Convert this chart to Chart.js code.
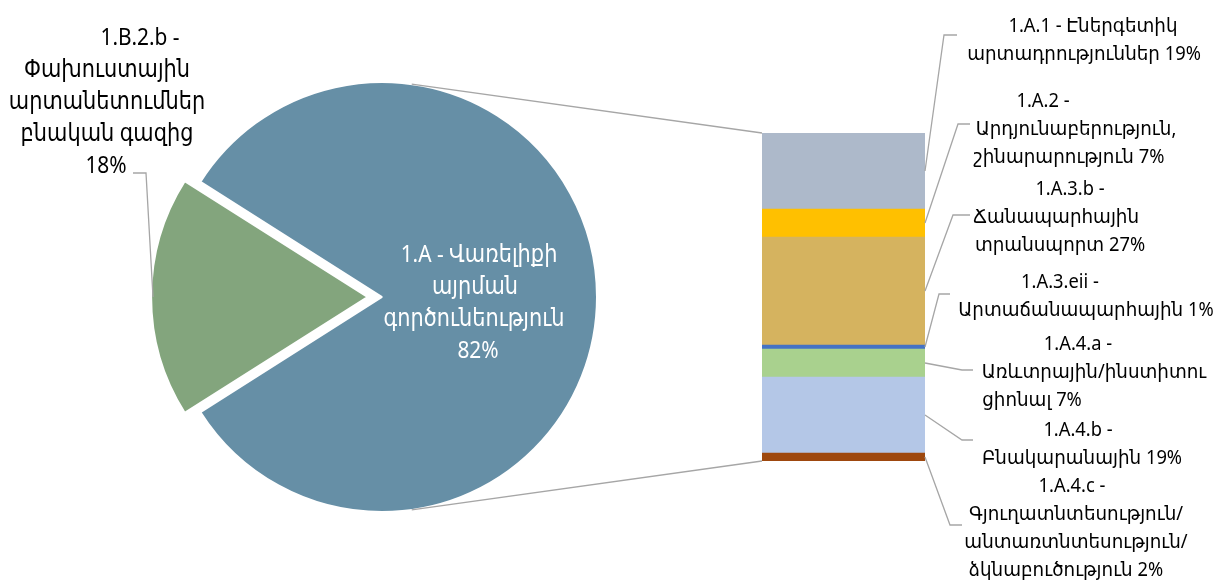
<!DOCTYPE html>
<html>
<head>
<meta charset="utf-8">
<title>1.A breakdown</title>
<script src="https://cdn.jsdelivr.net/npm/chart.js@4.4.1/dist/chart.umd.min.js"></script>
<style>
  html, body { margin: 0; padding: 0; background: #fff; }
  #wrap { position: relative; width: 1229px; height: 583px; }
  #wrap canvas { position: absolute; left: 0; top: 0; }
</style>
</head>
<body>
<div id="wrap">
  <canvas id="pieChart" width="1229" height="583"></canvas>
  <canvas id="barChart" width="1229" height="583"></canvas>
</div>
<script>
// Pie: fuel combustion vs fugitive emissions
const pieNames = ['1.A - Վառելիքի\nայրման\nգործունեություն', '1.B.2.b -\nՓախուստային\nարտանետումներ\nբնական գազից'];
const pieValues = [82, 18];
const pieColors = ['#668fa6', '#83a57d'];

// Breakdown of 1.A, listed from the top of the bar down
const barNames = [
  '1.A.1 - Էներգետիկ\nարտադրություններ',
  '1.A.2 -\nԱրդյունաբերություն,\nշինարարություն',
  '1.A.3.b -\nՃանապարհային\nտրանսպորտ',
  '1.A.3.eii -\nԱրտաճանապարհային',
  '1.A.4.a -\nԱռևտրային/ինստիտու\nցիոնալ',
  '1.A.4.b -\nԲնակարանային',
  '1.A.4.c -\nԳյուղատնտեսություն/\nանտառտնտեսություն/\nձկնաբուծություն'
];
const barValues = [19, 7, 27, 1, 7, 19, 2];
const barColors = ['#adb9ca', '#ffc000', '#d5b35f', '#4472c4', '#a9d18e', '#b4c7e7', '#9e480e'];

const FONT = '"Noto Sans", "DejaVu Sans", sans-serif';
const LINE_COLOR = '#a6a6a6';

// label placement: centre x of every line, first baseline
const barLabelPos = [
  { xs: [1093, 1084], y: 32 },
  { xs: [1043, 1076, 1069], y: 107 },
  { xs: [1070, 1056, 1060], y: 195 },
  { xs: [1060, 1086], y: 288 },
  { xs: [1078, 1094, 1032], y: 350 },
  { xs: [1078, 1082], y: 436 },
  { xs: [1072, 1076, 1076, 1066], y: 492 }
];
const barLabelStyle = { step: 28, size: 20, squeeze: 0.915, color: '#000' };
// leader lines: [elbow x, elbow y, end x]
const leaderPos = [[944, 35, 957], [958, 124, 970], [953, 215, 970], [939, 294, 950],
                   [962, 370, 973], [962, 440, 973], [950, 525, 962]];
const pieLabelPos = [
  { xs: [479, 475, 474, 478], y: 262 },
  { xs: [140, 107, 107, 107, 106], y: 45 }
];
const pieLabelStyles = [
  { step: 32, size: 24, squeeze: 0.87, color: '#fff' },
  { step: 32, size: 24, squeeze: 0.87, color: '#000' }
];

const pieTotal = pieValues.reduce((a, b) => a + b, 0);
// turn the pie so the small slice sits on the left
const pieRotation = 270 - 360 * (pieValues[0] + pieValues[1] / 2) / pieTotal;

const pieChart = new Chart(document.getElementById('pieChart'), {
  type: 'pie',
  data: {
    labels: pieNames,
    datasets: [{
      data: pieValues,
      backgroundColor: pieColors,
      borderColor: '#fff',
      borderWidth: 2,
      offset: [0, 58]
    }]
  },
  options: {
    responsive: false,
    animation: false,
    events: [],
    rotation: pieRotation,
    radius: 215,
    layout: { padding: { left: 0, right: 465, top: 11, bottom: 0 } },
    plugins: { legend: { display: false }, tooltip: { enabled: false } }
  }
});

// centred multi-line text, slightly narrowed
function drawLines(ctx, lines, pos, style) {
  ctx.font = style.size + 'px ' + FONT;
  ctx.fillStyle = style.color;
  ctx.textAlign = 'center';
  ctx.textBaseline = 'alphabetic';
  lines.forEach((line, i) => {
    const x = pos.xs[Math.min(i, pos.xs.length - 1)];
    ctx.save();
    ctx.translate(x, pos.y + i * style.step);
    ctx.scale(style.squeeze, 1);
    ctx.fillText(line, 0, 0);
    ctx.restore();
  });
}

function tangentPoint(cx, cy, r, px, py, upper) {
  const d = Math.hypot(px - cx, py - cy);
  const base = Math.atan2(py - cy, px - cx);
  const a = Math.acos(r / d);
  const ang = upper ? base - a : base + a;
  return [cx + r * Math.cos(ang), cy + r * Math.sin(ang)];
}

const annotations = {
  id: 'annotations',
  afterDatasetsDraw(chart) {
    const ctx = chart.ctx;
    const n = barValues.length;
    const barOf = i => chart.getDatasetMeta(n - 1 - i).data[0];
    ctx.save();
    ctx.strokeStyle = LINE_COLOR;
    ctx.lineWidth = 1.3;

    // connectors from the big slice to the bar
    const arcs = pieChart.getDatasetMeta(0).data;
    const big = arcs[0];
    const top = barOf(0), bottom = barOf(n - 1);
    const left = top.x - top.width / 2;
    [[top.y, true], [bottom.base, false]].forEach(([y, upper]) => {
      const p = tangentPoint(big.x, big.y, big.outerRadius, left, y, upper);
      ctx.beginPath();
      ctx.moveTo(p[0], p[1]);
      ctx.lineTo(left, y);
      ctx.stroke();
    });

    // leader lines from each bar segment to its label
    barValues.forEach((v, i) => {
      const b = barOf(i);
      const [ex, ey, endX] = leaderPos[i];
      ctx.beginPath();
      ctx.moveTo(b.x + b.width / 2, (b.y + b.base) / 2);
      ctx.lineTo(ex, ey);
      ctx.lineTo(endX, ey);
      ctx.stroke();
    });

    // leader from the small slice to its label
    const small = arcs[1];
    const shift = 16;
    const sx = small.x - small.outerRadius - shift + 2;
    ctx.beginPath();
    ctx.moveTo(133, 173);
    ctx.lineTo(146, 173);
    ctx.lineTo(sx, small.y);
    ctx.stroke();

    // labels
    barNames.forEach((name, i) => {
      const lines = (name + ' ' + barValues[i] + '%').split('\n');
      drawLines(ctx, lines, barLabelPos[i], barLabelStyle);
    });
    pieNames.forEach((name, i) => {
      const lines = (name + '\n' + pieValues[i] + '%').split('\n');
      drawLines(ctx, lines, pieLabelPos[i], pieLabelStyles[i]);
    });
    ctx.restore();
  }
};

// stacked from the bottom segment up
const barDatasets = barValues.map((v, i) => ({
  label: barNames[i],
  data: [v],
  backgroundColor: barColors[i],
  borderWidth: 0,
  barPercentage: 1,
  categoryPercentage: 1
})).reverse();

new Chart(document.getElementById('barChart'), {
  type: 'bar',
  data: { labels: ['1.A'], datasets: barDatasets },
  options: {
    responsive: false,
    animation: false,
    events: [],
    layout: { padding: { left: 762, right: 304, top: 133, bottom: 122 } },
    scales: {
      x: { stacked: true, display: false },
      y: { stacked: true, display: false, min: 0, max: pieValues[0] }
    },
    plugins: { legend: { display: false }, tooltip: { enabled: false } }
  },
  plugins: [annotations]
});
</script>
</body>
</html>
